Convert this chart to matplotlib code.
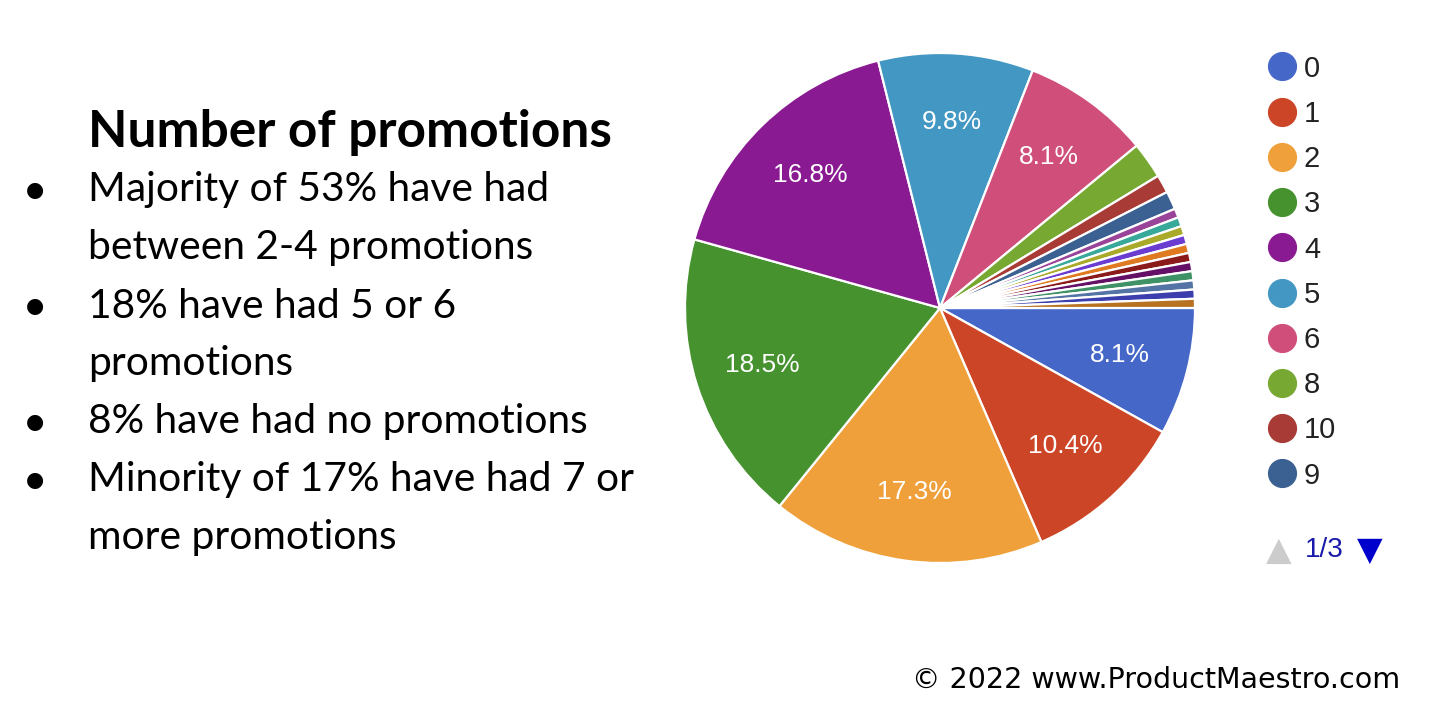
import matplotlib.pyplot as plt
from matplotlib.lines import Line2D

# number of promotions -> respondents
labels = ["0", "1", "2", "3", "4", "5", "6", "8", "10", "9",
          "7", "11", "12", "15", "20", "13", "14", "16", "18", "25", "30"]
counts = [14, 18, 30, 32, 29, 17, 14, 4, 2, 2,
          1, 1, 1, 1, 1, 1, 1, 1, 1, 1, 1]
colors = ["#4567C8", "#CC4527", "#F0A03A", "#45922F", "#8A1A92", "#4297C3",
          "#CF4F7A", "#77A932", "#A83B36", "#3B6193",
          "#994499", "#38A89A", "#AAAA2A", "#6A3CD0", "#E07A20", "#8B1A1A",
          "#651067", "#3F9266", "#5574A6", "#3B3EAC", "#B77322"]
legend_n = 10  # page 1/3 of the legend

title = "Number of promotions"
bullets = [["Majority of 53% have had", "between 2-4 promotions"],
           ["18% have had 5 or 6", "promotions"],
           ["8% have had no promotions"],
           ["Minority of 17% have had 7 or", "more promotions"]]
footer = "\u00a9 2022 www.ProductMaestro.com"

W, H = 1440, 716
fig = plt.figure(figsize=(W / 100, H / 100), dpi=100)

cx, cy, r = 940, 308, 255
ax = fig.add_axes([(cx - r) / W, (H - cy - r) / H, 2 * r / W, 2 * r / H])


def pct(p):
    return f"{p:.1f}%" if p > 5 else ""


wedges, texts, autotexts = ax.pie(counts, colors=colors, startangle=0, counterclock=False,
                                  autopct=pct, pctdistance=0.73,
                                  wedgeprops=dict(edgecolor="white", linewidth=1.6),
                                  textprops=dict(color="white", fontsize=19,
                                                 family="Liberation Sans"))
ax.set_xlim(-1, 1)
ax.set_ylim(-1, 1)
ax.set_aspect("equal")
ax.axis("off")

# legend (first page)
handles = [Line2D([], [], marker="o", linestyle="", markersize=20,
                  markerfacecolor=colors[i], markeredgecolor=colors[i])
           for i in range(legend_n)]
fig.legend(handles, labels[:legend_n], loc="upper left",
           bbox_to_anchor=(1250 / W, 1 - 43 / H), frameon=False,
           prop=dict(family="Liberation Sans", size=21), labelcolor="#222222",
           handletextpad=0.05, labelspacing=0.59, handlelength=1.4, borderaxespad=0)

fig.text(1279 / W, 1 - 550 / H, "\u25b2", color="#CCCCCC", fontsize=24,
         family="DejaVu Sans", ha="center", va="center")
fig.text(1305 / W, 1 - 550 / H, "1/3", color="#1A1AAA", fontsize=20,
         family="Liberation Sans", ha="left", va="center")
fig.text(1370 / W, 1 - 550 / H, "\u25bc", color="#0000CC", fontsize=24,
         family="DejaVu Sans", ha="center", va="center")

# left text block
fig.text(88 / W, 1 - 133 / H, title, fontsize=37, fontweight="bold",
         family="Lato", ha="left", va="center", color="black")
y = 190
for b in bullets:
    fig.text(35 / W, 1 - y / H, "\u25cf", fontsize=15, family="DejaVu Sans",
             ha="center", va="center", color="black")
    for line in b:
        fig.text(88 / W, 1 - y / H, line, fontsize=29.3, family="Lato",
                 ha="left", va="center", color="black")
        y += 58

fig.text(1400 / W, 1 - 680 / H, footer, fontsize=20.5, family="DejaVu Sans",
         ha="right", va="center", color="black")

fig.savefig("out.png", dpi=100, facecolor="white")
